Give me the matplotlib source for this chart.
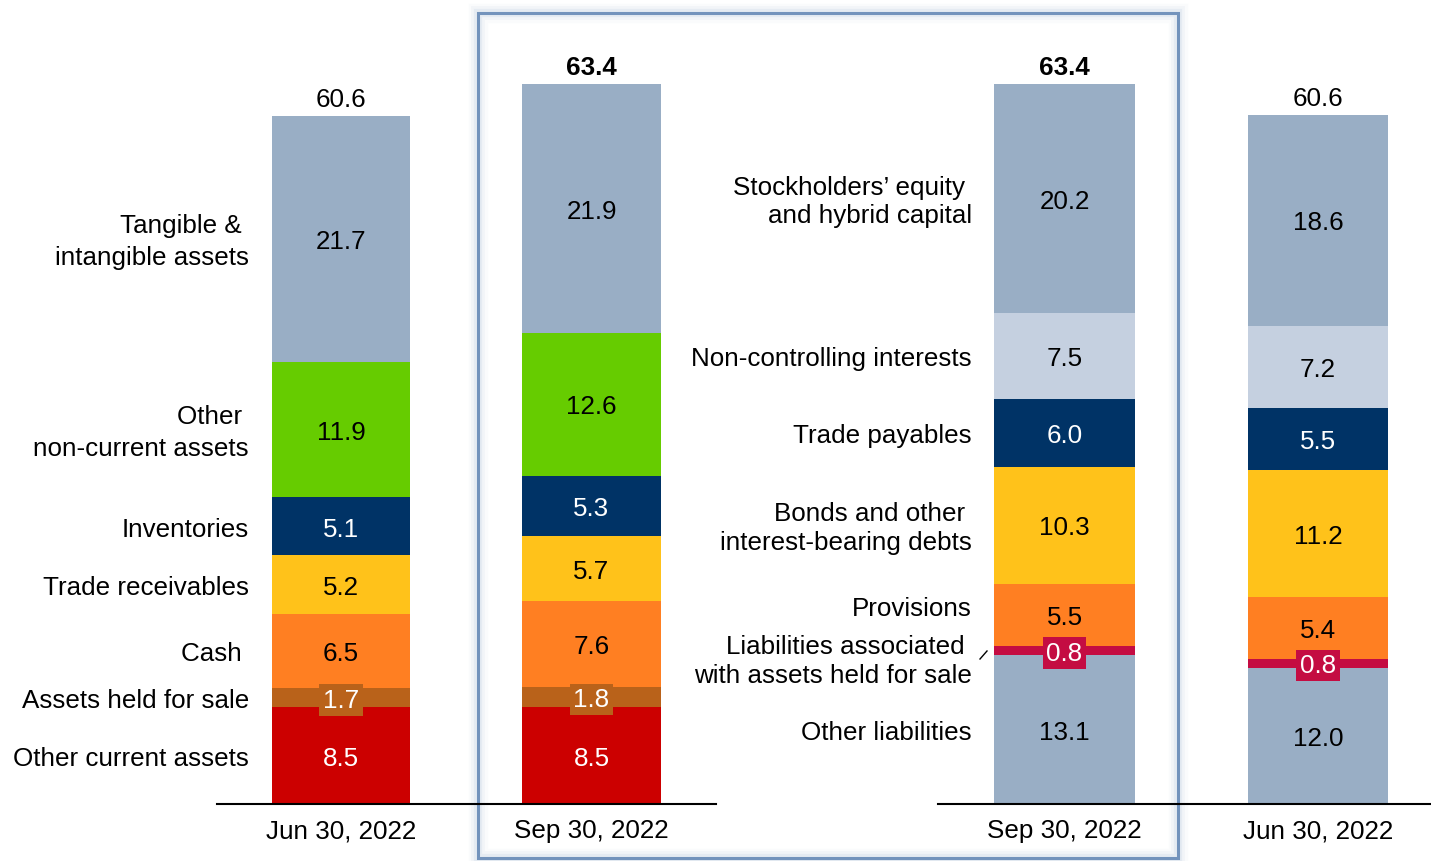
import matplotlib
matplotlib.use("Agg")
import matplotlib.pyplot as plt
from matplotlib.patches import Rectangle
import numpy as np

plt.rcParams['font.family'] = ['Liberation Sans', 'DejaVu Sans']

# ---------------- data ----------------
asset_dates = ["Jun 30, 2022", "Sep 30, 2022"]
asset_cats = ["Other current assets", "Assets held for sale", "Cash",
              "Trade receivables", "Inventories",
              "Other\nnon-current assets", "Tangible &\nintangible assets"]
assets_jun = [8.5, 1.7, 6.5, 5.2, 5.1, 11.9, 21.7]
assets_sep = [8.5, 1.8, 7.6, 5.7, 5.3, 12.6, 21.9]
asset_totals = ["60.6", "63.4"]

liab_dates = ["Sep 30, 2022", "Jun 30, 2022"]
liab_cats = ["Other liabilities", "Liabilities associated\nwith assets held for sale",
             "Provisions", "Bonds and other\ninterest-bearing debts",
             "Trade payables", "Non-controlling interests",
             "Stockholders\u2019 equity\nand hybrid capital"]
liab_sep = [13.1, 0.8, 5.5, 10.3, 6.0, 7.5, 20.2]
liab_jun = [12.0, 0.8, 5.4, 11.2, 5.5, 7.2, 18.6]
liab_totals = ["63.4", "60.6"]

# ---------------- styles ----------------
asset_colors = ["#CC0000", "#B9621A", "#FF7F22", "#FFC21A", "#003366", "#66CC00", "#99AEC5"]
asset_txt = ["white", "white", "black", "black", "white", "black", "black"]
liab_colors = ["#99AEC5", "#C40C42", "#FF7F22", "#FFC21A", "#003366", "#C5D0E0", "#99AEC5"]
liab_txt = ["black", "white", "black", "black", "white", "black", "black"]
boxed_asset = {1}
boxed_liab = {1}

W, H = 1431, 862
S = 720 / 63.4           # pixels per unit
BASE = 805               # baseline pixel row (from top)
DY = -2.2 / S            # visual text centering correction

def py(p):
    return (BASE - p) / S

fig = plt.figure(figsize=(W / 100, H / 100), dpi=100)
ax = fig.add_axes([0, 0, 1, 1])
ax.set_xlim(0, W)
ax.set_ylim(py(H), py(0))
ax.axis("off")

FS = 18.7

# highlight box with glow
for lw, a in [(14, 0.05), (10, 0.08), (6, 0.15)]:
    ax.add_patch(Rectangle((478, py(859)), 700, py(14) - py(859), fill=False,
                           edgecolor="#9DB3D3", lw=lw, alpha=a, zorder=0.5))
ax.add_patch(Rectangle((478, py(859)), 700, py(14) - py(859), fill=False,
                       edgecolor="#7393BC", lw=2.2, zorder=0.6))

def draw_stack(xc, width, vals, colors, txtc, boxed):
    bottoms = np.concatenate([[0], np.cumsum(vals)[:-1]])
    ax.bar([xc] * len(vals), vals, width=width, bottom=bottoms, color=colors,
           edgecolor="none", zorder=2)
    for i, (v, b) in enumerate(zip(vals, bottoms)):
        y = b + v / 2 + DY
        kw = {}
        if i in boxed:
            kw["bbox"] = dict(boxstyle="square,pad=0.14", fc=colors[i], ec="none")
        ax.text(xc, y, f"{v:.1f}", ha="center", va="center", fontsize=FS,
                color=txtc[i], zorder=4, **kw)
    return bottoms

asset_x = [341, 591.5]
liab_x = [1064.5, 1318]
widths_a = [138, 139]
widths_l = [141, 140]

b_jun = draw_stack(asset_x[0], widths_a[0], assets_jun, asset_colors, asset_txt, boxed_asset)
draw_stack(asset_x[1], widths_a[1], assets_sep, asset_colors, asset_txt, boxed_asset)
b_lsep = draw_stack(liab_x[0], widths_l[0], liab_sep, liab_colors, liab_txt, boxed_liab)
draw_stack(liab_x[1], widths_l[1], liab_jun, liab_colors, liab_txt, boxed_liab)

# totals
for xc, vals, t, bold in [(asset_x[0], assets_jun, asset_totals[0], False),
                          (asset_x[1], assets_sep, asset_totals[1], True),
                          (liab_x[0], liab_sep, liab_totals[0], True),
                          (liab_x[1], liab_jun, liab_totals[1], False)]:
    ax.text(xc, sum(vals) + 0.4, t, ha="center", va="bottom", fontsize=FS,
            fontweight="bold" if bold else "normal", color="black")

# baselines
ax.plot([217, 716], [0, 0], color="black", lw=1.5, zorder=3)
ax.plot([938, 1431], [0, 0], color="black", lw=1.5, zorder=3)

# date labels
for xc, d in zip(asset_x + liab_x, asset_dates + liab_dates):
    ax.text(xc, py(829) + DY, d, ha="center", va="center", fontsize=FS)

# asset category labels
asset_lbl = ["Other current assets", "Assets held for sale", "Cash ",
             "Trade receivables", "Inventories",
             "Other \nnon-current assets", "Tangible & \nintangible assets"]
for i, lab in enumerate(asset_lbl):
    y = b_jun[i] + assets_jun[i] / 2 + DY
    ax.text(249, y, lab, ha="right", va="center", fontsize=FS,
            multialignment="right", linespacing=1.42)

# liability category labels
liab_lbl = ["Other liabilities", "Liabilities associated \nwith assets held for sale",
            "Provisions", "Bonds and other \ninterest-bearing debts",
            "Trade payables", "Non-controlling interests",
            "Stockholders\u2019 equity \nand hybrid capital"]
liab_off = [0, -0.7, 0.8, 0, 0, 0, 0]
for i, lab in enumerate(liab_lbl):
    y = b_lsep[i] + liab_sep[i] / 2 + liab_off[i] + DY
    ax.text(972, y, lab, ha="right", va="center", fontsize=FS,
            multialignment="right", linespacing=1.25)

# small connector tick
ax.plot([980, 987], [py(660), py(652)], color="black", lw=1)

fig.savefig("out.png", dpi=100)
